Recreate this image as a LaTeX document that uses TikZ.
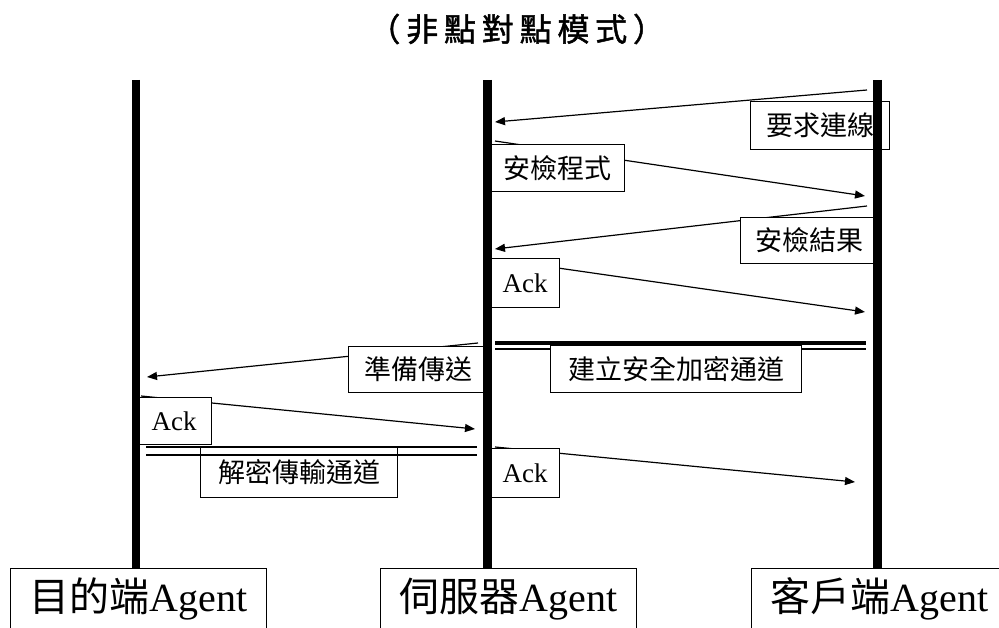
\documentclass[tikz,border=0pt]{standalone}
\usepackage{fontspec}
\setmainfont{Liberation Serif}
\newfontfamily\cjk{Noto Sans CJK TC}
\newfontfamily\cjktitle[FakeBold=1.5]{Noto Sans CJK TC}
\usetikzlibrary{arrows.meta}
\begin{document}
\begin{tikzpicture}[x=1pt,y=-1pt,
  lifeline/.style={line width=9pt},
  msg/.style={line width=1.2pt,-{Triangle[length=10pt,width=8pt]}},
  chan/.style={line width=#1},
  lbl/.style={draw,fill=white,line width=1.2pt,inner sep=0pt,anchor=north west,
    font=\fontsize{27}{27}\selectfont},
  agentbox/.style={draw,fill=white,line width=1.2pt,inner sep=0pt,anchor=north west,
    minimum width=256pt,minimum height=61pt,font=\fontsize{40}{40}\selectfont},
  titlefont/.style={font=\cjktitle\fontsize{32}{32}\selectfont}
]
\useasboundingbox (0,0) rectangle (999,628);
\clip (0,0) rectangle (999,628);

% title
\node[titlefont] (title) at (516.7,29)
  {（\kern5.8pt 非\kern5.8pt 點\kern5.8pt 對\kern5.8pt 點\kern5.8pt 模\kern5.8pt 式\kern5.8pt ）};

% lifeline tops and bottom agent boxes
\coordinate (dt) at (136,80);
\coordinate (st) at (487,80);
\coordinate (ct) at (877,80);
\node[agentbox] (dest) at (10,568) {{\cjk 目的端}Agent};
\node[agentbox] (srv) at (380,568) {{\cjk 伺服器}Agent};
\node[agentbox] (cli) at (751,568) {{\cjk 客戶端}Agent};

% message end points
\coordinate (m1a) at (867,90);  \coordinate (m1b) at (495,122);
\coordinate (m2a) at (495,141); \coordinate (m2b) at (865,196);
\coordinate (m3a) at (867,206); \coordinate (m3b) at (495,249);
\coordinate (m4a) at (495,259); \coordinate (m4b) at (865,312);
\coordinate (m5a) at (478,343); \coordinate (m5b) at (147,377);
\coordinate (m6a) at (141,396); \coordinate (m6b) at (475,429);
\coordinate (m7a) at (495,447); \coordinate (m7b) at (855,482);

\draw[msg] (m1a) -- (m1b);
\draw[msg] (m2a) -- (m2b);
\draw[msg] (m3a) -- (m3b);
\draw[msg] (m4a) -- (m4b);
\draw[msg] (m5a) -- (m5b);
\draw[msg] (m6a) -- (m6b);
\draw[msg] (m7a) -- (m7b);

% secure channels (double lines)
\coordinate (c1a) at (495,343); \coordinate (c1b) at (866,343);
\coordinate (c1c) at (495,349); \coordinate (c1d) at (866,349);
\draw[chan=4pt] (c1a) -- (c1b);
\draw[chan=1.5pt] (c1c) -- (c1d);
\coordinate (c2a) at (146,447); \coordinate (c2b) at (477,447);
\coordinate (c2c) at (146,455); \coordinate (c2d) at (477,455);
\draw[chan=1.8pt] (c2a) -- (c2b);

% labels
\node[lbl,minimum width=139pt,minimum height=48pt] (l1) at (750,101) {\cjk 要求連線};
\node[lbl,minimum width=134pt,minimum height=47pt] (l2) at (490,144) {\cjk 安檢程式};
\node[lbl,minimum width=137pt,minimum height=46pt] (l3) at (740,217) {\cjk 安檢結果};
\node[lbl,minimum width=69pt,minimum height=49pt]  (l4) at (490,258) {Ack};
\node[lbl,minimum width=140pt,minimum height=46pt] (l5) at (348,346) {\cjk 準備傳送};
\node[lbl,minimum width=75pt,minimum height=47pt]  (l6) at (136,397) {Ack};
\node[lbl,minimum width=251pt,minimum height=47pt] (l7) at (550,345) {\cjk 建立安全加密通道};
\node[lbl,minimum width=197pt,minimum height=50pt] (l8) at (200,447) {\cjk 解密傳輸通道};
\node[lbl,minimum width=69pt,minimum height=49pt]  (l9) at (490,448) {Ack};
\draw[chan=1.5pt] (c2c) -- (c2d);

% lifelines on top
\draw[lifeline,line width=8pt] (dt) -- (dt |- dest.north);
\draw[lifeline] (st) -- (st |- srv.north);
\draw[lifeline] (ct) -- (ct |- cli.north);
\end{tikzpicture}
\end{document}
